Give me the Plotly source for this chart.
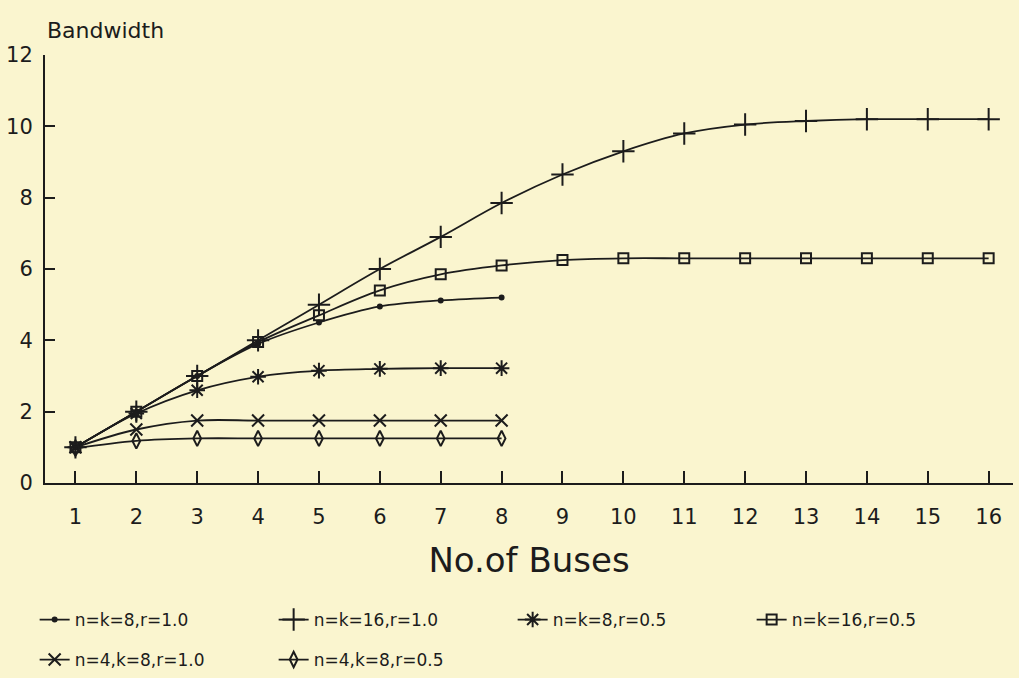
import plotly.graph_objects as go

buses_8 = [1, 2, 3, 4, 5, 6, 7, 8]
buses_16 = list(range(1, 17))

nk8_r10 = [1.0, 2.0, 3.0, 3.9, 4.5, 4.95, 5.12, 5.2]
nk16_r10 = [1.0, 2.0, 3.0, 4.0, 5.0, 6.0, 6.9, 7.85, 8.65, 9.3, 9.8, 10.05, 10.15, 10.2, 10.2, 10.2]
nk8_r05 = [1.0, 1.95, 2.6, 2.98, 3.15, 3.2, 3.22, 3.22]
nk16_r05 = [1.0, 2.0, 3.0, 3.95, 4.7, 5.4, 5.85, 6.1, 6.25, 6.3, 6.3, 6.3, 6.3, 6.3, 6.3, 6.3]
n4k8_r10 = [1.0, 1.5, 1.75, 1.75, 1.75, 1.75, 1.75, 1.75]
n4k8_r05 = [0.97, 1.18, 1.25, 1.25, 1.25, 1.25, 1.25, 1.25]

labels = ["n=k=8,r=1.0", "n=k=16,r=1.0", "n=k=8,r=0.5", "n=k=16,r=0.5",
          "n=4,k=8,r=1.0", "n=4,k=8,r=0.5"]

INK = "#1c1c1c"
BG = "#FAF5CF"
FONT = "DejaVu Sans, Liberation Sans, sans-serif"

series = [
    (buses_8, nk8_r10, labels[0], "circle", 4, "legend"),
    (buses_16, nk16_r10, labels[1], "cross-thin-open", 16, "legend"),
    (buses_8, nk8_r05, labels[2], "asterisk-open", 13, "legend"),
    (buses_16, nk16_r05, labels[3], "square-open", 10, "legend"),
    (buses_8, n4k8_r10, labels[4], "x-thin-open", 12, "legend2"),
    (buses_8, n4k8_r05, labels[5], "diamond-tall-open", 11, "legend2"),
]

fig = go.Figure()
for xs, ys, name, sym, size, lg in series:
    fig.add_trace(go.Scatter(
        x=xs, y=ys, name=name, mode="lines+markers",
        line=dict(color=INK, width=1.8, shape="spline"),
        marker=dict(symbol=sym, size=size, color=INK,
                    line=dict(color=INK, width=2)),
        legend=lg,
    ))

legend_style = dict(orientation="h", xref="container", x=0.034, xanchor="left",
                    yref="container", yanchor="middle",
                    entrywidth=194, entrywidthmode="pixels",
                    font=dict(size=17, family=FONT, color=INK),
                    bgcolor="rgba(0,0,0,0)")

fig.update_layout(
    width=1019, height=678,
    margin=dict(l=45, r=6, t=55, b=195),
    paper_bgcolor=BG, plot_bgcolor=BG,
    font=dict(family=FONT, color=INK, size=18),
    showlegend=True,
    legend=dict(legend_style, y=1 - 620 / 678),
    legend2=dict(legend_style, y=1 - 660 / 678),
    xaxis=dict(range=[0.5, 16.4], tickvals=buses_16, ticks="inside", ticklen=12,
               tickwidth=1.5, tickcolor=INK, showline=True, linecolor=INK, linewidth=2,
               showgrid=False, zeroline=False, tickfont=dict(size=21),
               ticklabelstandoff=14,
               title=dict(text="No.of Buses", font=dict(size=34), standoff=20)),
    yaxis=dict(range=[0, 12], tickvals=[0, 2, 4, 6, 8, 10, 12], ticks="inside",
               ticklen=10, tickwidth=1.5, tickcolor=INK, showline=True, linecolor=INK,
               linewidth=2, showgrid=False, zeroline=False, tickfont=dict(size=21),
               ticklabelstandoff=6),
    annotations=[dict(text="Bandwidth", xref="paper", yref="paper", x=0, y=1.0,
                      xanchor="left", yanchor="bottom", yshift=10, showarrow=False,
                      font=dict(size=22, family=FONT, color=INK))],
)

fig.write_html("out.html")
